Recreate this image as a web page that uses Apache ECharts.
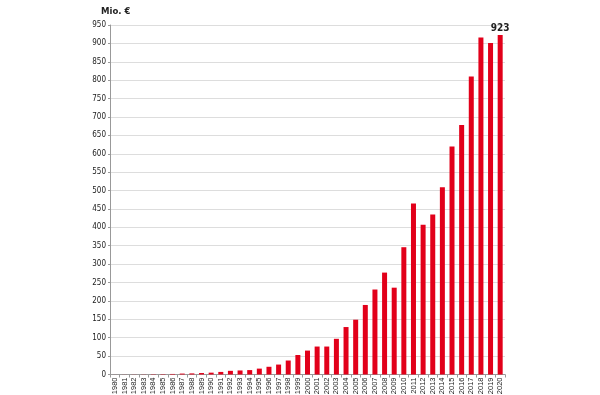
<!DOCTYPE html>
<html><head><meta charset="utf-8">
<script src="https://cdn.jsdelivr.net/npm/echarts@6/dist/echarts.min.js"></script>
<style>html,body{margin:0;padding:0;background:#fff}#c{width:600px;height:395px}</style>
</head><body><div id="c"></div>
<script>
const years = ['1980','1981','1982','1983','1984','1985','1986','1987','1988','1989','1990','1991','1992','1993','1994','1995','1996','1997','1998','1999','2000','2001','2002','2003','2004','2005','2006','2007','2008','2009','2010','2011','2012','2013','2014','2015','2016','2017','2018','2019','2020'];
const values = [0.1,0.2,0.3,0.4,0.8,1,1.5,2.5,3,4,5,7,10,11,12,16,21,27,38,53,65,76,76,97,129,149,189,231,277,236,346,465,407,435,509,620,678,810,916,901,923];
const yTicks = {min:0, max:950, interval:50};
const unitLabel = 'Mio. €';
const font = '"Liberation Sans Narrow", "DejaVu Sans Condensed", sans-serif';
const chart = echarts.init(document.getElementById('c'), null, {renderer:'canvas'});
chart.setOption({
  animation:false,
  grid:{left:110, right:95, top:25, bottom:20.5, containLabel:false, outerBoundsMode:'none'},
  title:{text:unitLabel, left:96, top:2, textStyle:{fontSize:9.5, fontWeight:'bold', color:'#222', fontFamily:font}},
  xAxis:{type:'category', data:years,
    axisLine:{lineStyle:{color:'#999'}},
    axisTick:{show:true, length:3, lineStyle:{color:'#999'}},
    axisLabel:{rotate:90, fontSize:7.5, color:'#222', margin:3, interval:0, fontFamily:'"Liberation Sans", sans-serif'}},
  yAxis:{type:'value', min:yTicks.min, max:yTicks.max, interval:yTicks.interval,
    axisLine:{show:true, lineStyle:{color:'#999'}},
    axisTick:{show:true, length:2, lineStyle:{color:'#999'}},
    axisLabel:{fontSize:8, color:'#222', margin:4, fontFamily:font},
    splitLine:{lineStyle:{color:'#ddd'}}},
  series:[{type:'bar', data:values.map((v,i)=> i===values.length-1 ? {value:v, label:{show:true, position:'top', formatter:'{c}', fontSize:10, fontWeight:'bold', color:'#222', fontFamily:font, distance:2}} : v),
    barWidth:5, itemStyle:{color:'#e2001a'}}]
});
</script></body></html>
